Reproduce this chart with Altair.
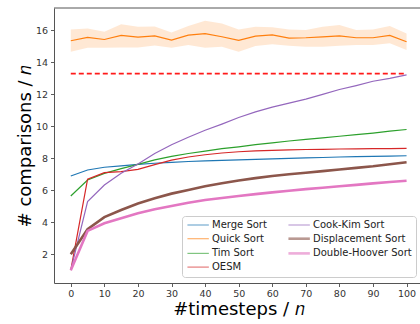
import altair as alt
import pandas as pd

T = [0, 5, 10, 15, 20, 25, 30, 35, 40, 45, 50, 55, 60, 65, 70, 75, 80, 85, 90, 95, 100]

merge = [6.89, 7.27, 7.44, 7.53, 7.62, 7.69, 7.75, 7.80, 7.84, 7.87, 7.90, 7.93, 7.96, 7.99, 8.02, 8.05, 8.08, 8.10, 8.12, 8.14, 8.16]
quick = [15.35, 15.56, 15.43, 15.69, 15.58, 15.66, 15.39, 15.70, 15.80, 15.60, 15.37, 15.64, 15.72, 15.52, 15.54, 15.60, 15.66, 15.54, 15.54, 15.69, 15.29]
quick_lo = [14.66, 14.91, 14.91, 14.93, 14.93, 15.06, 14.91, 15.08, 14.91, 14.98, 14.66, 15.02, 15.14, 15.04, 14.98, 14.98, 15.04, 15.08, 15.08, 15.19, 14.77]
quick_hi = [16.06, 16.12, 15.91, 16.39, 16.23, 16.25, 15.87, 16.27, 16.60, 16.43, 16.06, 16.23, 16.19, 16.06, 16.02, 16.23, 16.33, 16.02, 16.06, 16.27, 15.81]
tim = [5.64, 6.64, 7.06, 7.35, 7.62, 7.90, 8.12, 8.30, 8.45, 8.60, 8.72, 8.85, 8.97, 9.08, 9.18, 9.28, 9.38, 9.48, 9.58, 9.70, 9.80]
oesm = [1.0, 6.69, 7.10, 7.17, 7.31, 7.60, 7.88, 8.08, 8.22, 8.33, 8.41, 8.46, 8.50, 8.53, 8.55, 8.56, 8.58, 8.59, 8.60, 8.61, 8.62]
cook = [1.0, 5.29, 6.33, 7.06, 7.64, 8.30, 8.85, 9.32, 9.75, 10.14, 10.55, 10.90, 11.20, 11.45, 11.70, 12.00, 12.30, 12.55, 12.82, 13.00, 13.22]
disp = [2.0, 3.56, 4.32, 4.77, 5.17, 5.50, 5.79, 6.02, 6.25, 6.44, 6.61, 6.76, 6.89, 7.00, 7.10, 7.20, 7.30, 7.40, 7.50, 7.63, 7.75]
dhoover = [1.0, 3.46, 3.94, 4.25, 4.56, 4.81, 5.02, 5.22, 5.39, 5.52, 5.64, 5.76, 5.87, 5.97, 6.07, 6.16, 6.25, 6.34, 6.43, 6.52, 6.60]
bound = 13.29

series_names = ["Merge Sort", "Quick Sort", "Tim Sort", "OESM", "Cook-Kim Sort", "Displacement Sort", "Double-Hoover Sort"]
series_vals = [merge, quick, tim, oesm, cook, disp, dhoover]
series_colors = ["#1f77b4", "#ff7f0e", "#2ca02c", "#d62728", "#9467bd", "#8c564b", "#e377c2"]
series_widths = [1.2, 1.2, 1.2, 1.2, 1.2, 2.6, 2.6]

rows = []
for name, vals in zip(series_names, series_vals):
    for t, v in zip(T, vals):
        rows.append({"t": t, "v": v, "series": name})
df = pd.DataFrame(rows)
band_df = pd.DataFrame({"t": T, "lo": quick_lo, "hi": quick_hi})
bound_df = pd.DataFrame({"t": [T[0], T[-1]], "v": [bound, bound]})

XMIN, XMAX = -5, 104
YMIN, YMAX = 0.2, 17.4

xs = alt.Scale(domain=[XMIN, XMAX], nice=False, zero=False)
ys = alt.Scale(domain=[YMIN, YMAX], nice=False, zero=False)

xaxis = alt.Axis(values=list(range(0, 101, 10)), title="#timesteps / 𝑛", titleFontSize=18,
                 titleFontWeight="normal", titleX=184.5, titleY=31, titleBaseline="alphabetic",
                 titleAlign="center", labelFontSize=9.5, tickSize=3.5, labelPadding=2,
                 labelFlush=False, labelOverlap=False)
yaxis = alt.Axis(values=list(range(2, 17, 2)), title="# comparisons / 𝑛", titleFontSize=18,
                 titleFontWeight="normal", titleX=-24, titleY=137.5, titleBaseline="alphabetic",
                 titleAlign="center", titleAngle=270, labelFontSize=9.5, tickSize=3.5, labelPadding=3,
                 labelOverlap=False)

band = alt.Chart(band_df).mark_area(color="#ff7f0e", opacity=0.18).encode(
    x=alt.X("t:Q", scale=xs, axis=xaxis),
    y=alt.Y("lo:Q", scale=ys, axis=yaxis),
    y2="hi:Q",
)

color_enc = alt.Color("series:N", title=None,
                      scale=alt.Scale(domain=series_names, range=series_colors))
width_enc = alt.StrokeWidth("series:N", title=None,
                            scale=alt.Scale(type="ordinal", domain=series_names, range=series_widths))

layers = [band]
for name in series_names:
    layers.append(
        alt.Chart(df).transform_filter(alt.datum.series == name).mark_line().encode(
            x=alt.X("t:Q", scale=xs, axis=xaxis),
            y=alt.Y("v:Q", scale=ys, axis=yaxis),
            color=color_enc,
            strokeWidth=width_enc,
        )
    )

bound_line = alt.Chart(bound_df).mark_line(strokeDash=[5, 3]).encode(
    x=alt.X("t:Q", scale=xs, axis=xaxis), y=alt.Y("v:Q", scale=ys, axis=yaxis),
    color=alt.value("#ff1a1a"), strokeWidth=alt.value(1.8))
layers.append(bound_line)

top_df = pd.DataFrame({"y": [YMAX]})
top_spine = alt.Chart(top_df).mark_rule().encode(
    y=alt.Y("y:Q", scale=ys, axis=yaxis), color=alt.value("#555555"), strokeWidth=alt.value(1))
layers.append(top_spine)

chart = alt.layer(*layers).properties(
    width=366, height=275,
    autosize=alt.AutoSizeParams(type="none"),
    padding={"left": 54, "top": 8, "right": 0, "bottom": 41},
    background="white",
).configure_view(stroke=None).configure_axis(
    grid=False, domainColor="#555555", domainWidth=1, tickColor="#333333", tickWidth=0.8,
    labelColor="#333333", labelFont="DejaVu Sans", titleFont="DejaVu Sans", titleColor="#000000",
).configure_legend(
    orient="none", legendX=128, legendY=208, fillColor="white", strokeColor="#cccccc",
    cornerRadius=3, padding=4, columns=2, columnPadding=16, rowPadding=2.7,
    labelFontSize=10, labelFont="DejaVu Sans", labelColor="#222222", symbolType="M-1,0H5",
    symbolSize=51, labelOffset=16, symbolOpacity=0.6,
)

chart.save("out.html", embed_options={"renderer": "svg", "actions": False})
